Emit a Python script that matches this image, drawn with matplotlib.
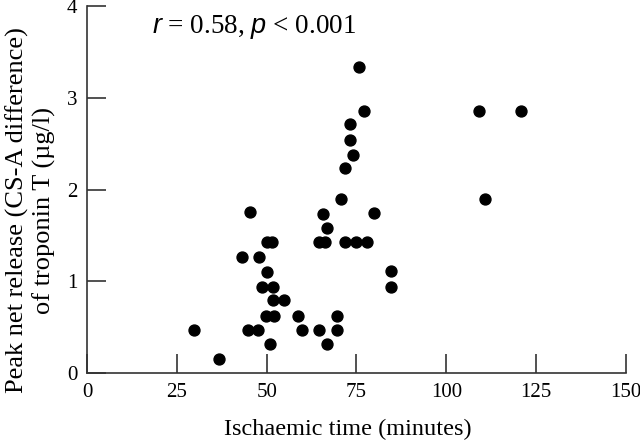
import numpy as np
import matplotlib.pyplot as plt

plt.rcParams['font.family'] = ['Liberation Serif', 'DejaVu Serif']
plt.rcParams['mathtext.fontset'] = 'custom'
plt.rcParams['mathtext.rm'] = 'Liberation Serif'
plt.rcParams['mathtext.it'] = 'Liberation Sans:italic'

# ischaemic time (minutes) and peak net release of troponin T (ug/l)
ischaemic_time = [29.7, 36.7, 45.3, 43.1, 47.9, 44.7, 47.7, 50.1, 51.5, 50.1,
                  48.8, 51.8, 51.8, 54.9, 49.9, 52.1, 50.8, 58.8, 59.9, 64.7,
                  66.8, 69.7, 69.7, 65.8, 66.8, 64.7, 66.2, 70.8, 71.9, 74.9,
                  77.9, 110.7, 79.9, 84.7, 84.7, 75.8, 77.1, 73.1, 73.1, 74.0,
                  71.9, 109.0, 120.7]
troponin = [0.47, 0.15, 1.75, 1.26, 1.26, 0.47, 0.47, 1.43, 1.43, 1.10,
            0.94, 0.94, 0.79, 0.79, 0.62, 0.62, 0.31, 0.62, 0.47, 0.47,
            0.31, 0.62, 0.47, 1.73, 1.58, 1.43, 1.43, 1.90, 1.43, 1.43,
            1.43, 1.90, 1.74, 1.11, 0.94, 3.34, 2.86, 2.71, 2.54, 2.38,
            2.23, 2.86, 2.86]

xticks = [0, 25, 50, 75, 100, 125, 150]
yticks = [0, 1, 2, 3, 4]

fig = plt.figure(figsize=(6.4, 4.46), dpi=100)
ax = fig.add_axes([0.136, 0.164, 0.842, 0.822])
ax.scatter(ischaemic_time, troponin, s=62, color='black', zorder=3)

ax.set_xlim(0, 150)
ax.set_ylim(0, 4)
ax.set_xticks(xticks)
ax.set_yticks(yticks)
ax.spines['top'].set_visible(False)
ax.spines['right'].set_visible(False)
for s in ['left', 'bottom']:
    ax.spines[s].set_linewidth(1.2)
    ax.spines[s].set_color('#333333')
ax.tick_params(direction='in', length=14, width=1.2, color='#333333',
               labelsize=15, pad=7)

ax.set_xlabel('Ischaemic time (minutes)', fontsize=17.5)
ax.set_ylabel('Peak net release (CS-A difference)\nof troponin T (µg/l)',
              fontsize=19)
ax.xaxis.set_label_coords(0.483, -0.125)
ax.yaxis.set_label_coords(-0.058, 0.444)
ax.text(46.4, 3.77, r'$r$ = 0.58, $p$ < 0.001', fontsize=19.5, ha='center',
        va='center')

fig.savefig('out.png', dpi=100)
